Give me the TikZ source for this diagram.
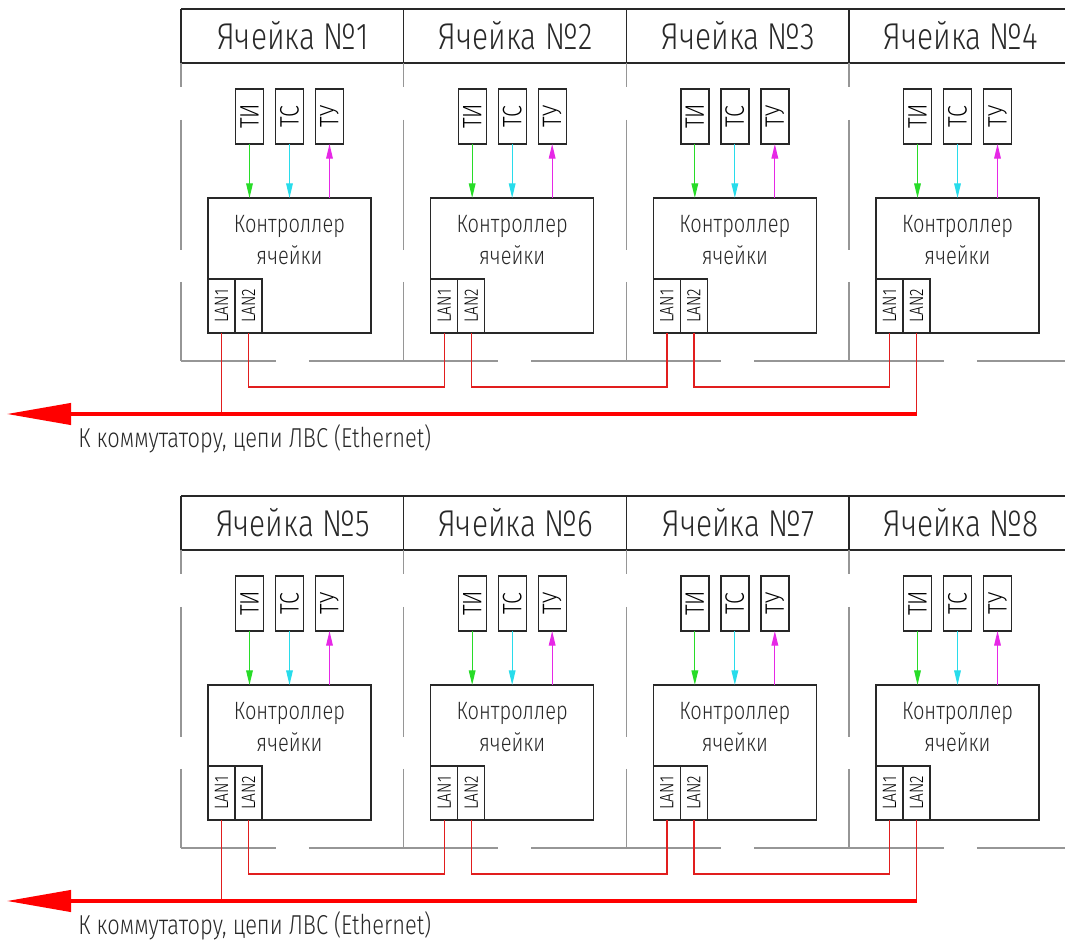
\documentclass[tikz,border=0pt]{standalone}
\usepackage{fontspec}
\usepackage{graphicx}
\setmainfont{Fira Sans Light}[FakeStretch=0.8]
\usetikzlibrary{positioning,arrows.meta}

\definecolor{frame}{RGB}{40,40,40}
\definecolor{gridgray}{RGB}{150,150,150}
\definecolor{tigreen}{RGB}{40,220,40}
\definecolor{tscyan}{RGB}{40,220,235}
\definecolor{tumagenta}{RGB}{230,40,230}
\definecolor{lanred}{RGB}{225,30,30}
\definecolor{busred}{RGB}{255,0,0}

\begin{document}
\begin{tikzpicture}
 [x=0.75pt, y=-0.75pt,
  title node/.style={font=\fontsize{28}{30}\selectfont, text=frame},
  sig node/.style={draw=frame, line width=1pt, minimum width=21pt, minimum height=41.25pt, inner sep=0pt, outer sep=0pt, font=\fontsize{20}{20}\selectfont},
  ctrl node/.style={draw=frame, line width=1.1pt, minimum width=122.25pt, minimum height=101.25pt, inner sep=0pt, outer sep=0pt},
  lan node/.style={draw=frame, line width=1pt, minimum width=20.25pt, minimum height=40.5pt, inner sep=0pt, outer sep=0pt, font=\fontsize{14.5}{15}\selectfont},
  note node/.style={font=\fontsize{20.5}{21}\selectfont, text=frame, inner sep=0pt},
  grid line/.style={draw=gridgray, line width=0.9pt},
  frame line/.style={draw=frame, line width=1.1pt},
  sig arrow/.style={-{Triangle[length=11pt,width=5pt]}, line width=0.9pt},
  lan line/.style={draw=lanred, line width=1pt},
  bus line/.style={draw=busred, line width=2.3pt, -{Triangle[length=48pt,width=16pt]}}]

\useasboundingbox (0,0) rectangle (1065,944);

% cells
\foreach \row in {0,1}{
  \pgfmathsetmacro{\dy}{487*\row}
  \draw[frame line] (181,9+\dy) -- (1065,9+\dy) (181,63+\dy) -- (1065,63+\dy);
  \foreach \col in {1,...,4}{
    \pgfmathtruncatemacro{\n}{4*\row+\col}
    \pgfmathsetmacro{\dx}{222.67*(\col-1)}
    \pgfmathsetmacro{\xr}{min(403.67+\dx,1065)}
    \draw[frame line] (181+\dx,9+\dy) -- (181+\dx,63+\dy);
    \draw[grid line] (181+\dx,63+\dy) -- (181+\dx,87+\dy) (181+\dx,120+\dy) -- (181+\dx,250+\dy)
      (181+\dx,282+\dy) -- (181+\dx,361+\dy)
      (181+\dx,361+\dy) -- (275.8+\dx,361+\dy) (308.8+\dx,361+\dy) -- (\xr,361+\dy);

    \node[title node] (h\n) at (293+\dx,36+\dy) {Ячейка №\n};
    \node[ctrl node, label={[align=center, anchor=north, inner sep=0pt, yshift=-12.75pt, text=frame, font=\fontsize{18.8}{24}\selectfont]north:Контроллер\\ячейки}] (k\n) at (289.5+\dx,265.5+\dy) {};
    \node[sig node] (ts\n) [above=40.5pt of k\n] {\rotatebox{90}{ТС}};
    \node[sig node] (ti\n) [left=9pt of ts\n] {\rotatebox{90}{ТИ}};
    \node[sig node] (tu\n) [right=9pt of ts\n] {\rotatebox{90}{ТУ}};
    \node[lan node, anchor=south west] (la\n) at (k\n.south west) {\rotatebox{90}{LAN1}};
    \node[lan node] (lb\n) [right=0pt of la\n] {\rotatebox{90}{LAN2}};

    \draw[sig arrow, tigreen] (ti\n) -- (ti\n |- k\n.north);
    \draw[sig arrow, tscyan] (ts\n) -- (k\n);
    \draw[sig arrow, tumagenta] (tu\n |- k\n.north) -- (tu\n);
  }
}

% LAN chain and bus
\foreach \row in {0,1}{
  \pgfmathsetmacro{\dy}{487*\row}
  \pgfmathtruncatemacro{\fcell}{4*\row+1}
  \pgfmathtruncatemacro{\lcell}{4*\row+4}
  \coordinate (out\row) at (7,414+\dy);
  \foreach \col in {1,2,3}{
    \pgfmathtruncatemacro{\cur}{4*\row+\col}
    \pgfmathtruncatemacro{\nxt}{\cur+1}
    \draw[lan line] (lb\cur.south) -- ++(0,54) -| (la\nxt.south);
  }
  \draw[lan line] (la\fcell.south) -- (la\fcell.south |- out\row);
  \draw[lan line] (lb\lcell.south) -- (lb\lcell.south |- out\row);
  \draw[bus line] (lb\lcell.south |- out\row) -- (out\row);
  \node[note node, anchor=west] (note\row) at (78,439+\dy) {К коммутатору, цепи ЛВС (Ethernet)};
}

\end{tikzpicture}
\end{document}
